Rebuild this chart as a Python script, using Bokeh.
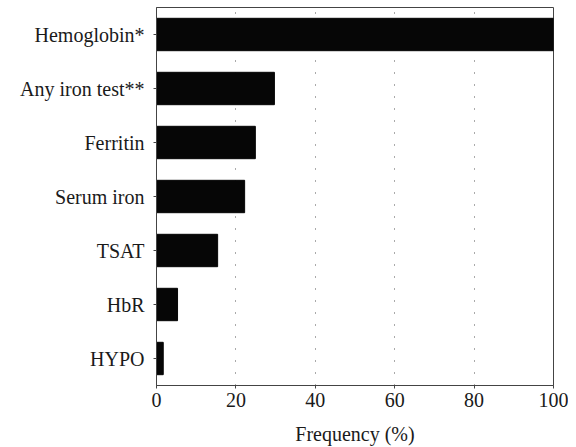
from bokeh.plotting import figure
from bokeh.models import ColumnDataSource, FixedTicker, FactorRange, Range1d
from bokeh.embed import file_html
from bokeh.resources import INLINE

categories = ["Hemoglobin*", "Any iron test**", "Ferritin", "Serum iron", "TSAT", "HbR", "HYPO"]
values = [100, 29.7, 24.9, 22.2, 15.4, 5.3, 1.7]
x_ticks = [0, 20, 40, 60, 80, 100]

src = ColumnDataSource(dict(cat=categories, val=values))

p = figure(
    width=568, height=447,
    y_range=FactorRange(factors=list(reversed(categories)), range_padding=0),
    x_range=Range1d(0, 100),
    output_backend="svg", toolbar_location=None,
    min_border_left=156, min_border_right=15, min_border_top=7, min_border_bottom=0,
)

p.hbar(y="cat", right="val", left=0, height=0.6, source=src,
       fill_color="#060606", line_color="#060606")

font = "Liberation Serif"
p.xaxis.ticker = FixedTicker(ticks=x_ticks)
p.xaxis.axis_label = "Frequency (%)"
for ax in (p.xaxis[0], p.yaxis[0]):
    ax.major_label_text_font = font
    ax.major_label_text_font_size = "20px"
    ax.major_label_text_color = "#1a1a1a"
    ax.axis_line_color = "#444444"
    ax.major_tick_line_color = "#444444"
    ax.major_tick_out = 3
    ax.major_tick_in = 0
    ax.minor_tick_line_color = None
p.xaxis.axis_label_text_font = font
p.xaxis.axis_label_text_font_size = "20px"
p.xaxis.axis_label_text_font_style = "normal"
p.xaxis.axis_label_text_color = "#1a1a1a"
p.xaxis.axis_label_standoff = 13
p.xaxis.major_label_standoff = 4
p.yaxis.major_label_standoff = 9

p.ygrid.grid_line_color = None
p.xgrid.ticker = FixedTicker(ticks=[20, 40, 60, 80])
p.xgrid.grid_line_color = "#555555"
p.xgrid.grid_line_dash = "1 11"
p.xgrid.grid_line_width = 1

p.outline_line_color = "#444444"
p.outline_line_width = 1
p.background_fill_color = "white"
p.border_fill_color = "white"

open("out.html", "w").write(file_html(p, INLINE))
